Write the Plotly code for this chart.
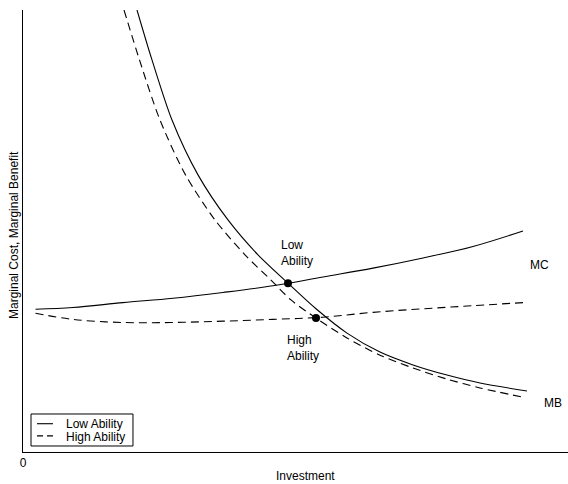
import plotly.graph_objects as go

# Marginal cost schedules by ability, on a common investment grid
invest_mc = [0.25, 1, 2, 3, 4, 5, 6, 7, 8, 9, 10]
mc_low = [3.23, 3.27, 3.38, 3.48, 3.61, 3.76, 3.96, 4.16, 4.39, 4.65, 5.00]
mc_high = [3.14, 3.00, 2.93, 2.93, 2.96, 3.00, 3.05, 3.16, 3.24, 3.31, 3.38]

# Marginal benefit schedules (they run off the top of the chart at low investment)
invest_mb_low = [2.28, 2.58, 2.98, 3.50, 4.10, 4.70, 5.30, 5.86, 6.48, 7.14, 7.80, 8.48, 9.14, 10.08]
mb_low = [10.0, 8.87, 7.51, 6.27, 5.25, 4.46, 3.82, 3.24, 2.69, 2.26, 1.97, 1.74, 1.56, 1.38]
invest_mb_high = [2.02, 2.33, 2.74, 3.25, 3.84, 4.44, 4.96, 5.36, 5.86, 6.48, 7.14, 7.80, 8.48, 9.14, 10.0]
mb_high = [10.0, 8.87, 7.51, 6.27, 5.25, 4.46, 3.89, 3.44, 3.03, 2.58, 2.19, 1.90, 1.65, 1.45, 1.24]

# Optimal investment where MB = MC for each type
eq_invest = [5.30, 5.86]
eq_value = [3.82, 3.03]

FONT = "Liberation Sans, Arial, Helvetica, sans-serif"
DASH = "8px,5px"
LINE_W = 1.1

fig = go.Figure()
fig.add_trace(go.Scatter(x=invest_mc, y=mc_low, mode="lines", line=dict(color="black", width=LINE_W, shape="spline"), name="Low Ability"))
fig.add_trace(go.Scatter(x=invest_mc, y=mc_high, mode="lines", line=dict(color="black", width=LINE_W, dash=DASH, shape="spline"), name="High Ability"))
fig.add_trace(go.Scatter(x=invest_mb_low, y=mb_low, mode="lines", line=dict(color="black", width=LINE_W, shape="spline", smoothing=0.8), showlegend=False))
fig.add_trace(go.Scatter(x=invest_mb_high, y=mb_high, mode="lines", line=dict(color="black", width=LINE_W, dash=DASH, shape="spline", smoothing=0.8), showlegend=False))
fig.add_trace(go.Scatter(x=eq_invest, y=eq_value, mode="markers", marker=dict(color="black", size=8), showlegend=False))

annotations = [
    dict(x=5.14, y=4.50, text="Low<br>Ability", xanchor="left", yanchor="middle", align="left"),
    dict(x=5.26, y=2.35, text="High<br>Ability", xanchor="left", yanchor="middle", align="left"),
    dict(x=10.12, y=4.23, text="MC", xanchor="left", yanchor="middle"),
    dict(x=10.40, y=1.12, text="MB", xanchor="left", yanchor="middle"),
    dict(x=0.519, y=-0.054, xref="paper", yref="paper", text="Investment", xanchor="center", yanchor="middle"),
    dict(x=-0.0165, y=0.491, xref="paper", yref="paper", text="Marginal Cost, Marginal Benefit", textangle=-90, xanchor="center", yanchor="middle"),
    # legend entries
    dict(x=0.0771, y=0.0640, xref="paper", yref="paper", text="Low Ability", xanchor="left", yanchor="middle", size=12),
    dict(x=0.0771, y=0.0345, xref="paper", yref="paper", text="High Ability", xanchor="left", yanchor="middle", size=12),
]
for a in annotations:
    a.setdefault("xref", "x")
    a.setdefault("yref", "y")
    size = a.pop("size", 12)
    a["showarrow"] = False
    a["borderpad"] = 0
    a["font"] = dict(family=FONT, size=size, color="black")

shapes = [
    dict(type="rect", xref="paper", yref="paper", x0=0.0147, x1=0.2018, y0=0.0136, y1=0.086, line=dict(color="black", width=1), fillcolor="white", layer="below"),
    dict(type="line", xref="paper", yref="paper", x0=0.0257, x1=0.055, y0=0.0640, y1=0.0640, line=dict(color="black", width=LINE_W)),
    dict(type="line", xref="paper", yref="paper", x0=0.0257, x1=0.055, y0=0.0365, y1=0.0365, line=dict(color="black", width=LINE_W, dash="6px,4px")),
]

fig.update_layout(
    width=568, height=484,
    margin=dict(l=23, r=0, t=10, b=32),
    paper_bgcolor="white", plot_bgcolor="white",
    showlegend=False,
    font=dict(family=FONT, size=12, color="black"),
    annotations=annotations,
    shapes=shapes,
    xaxis=dict(range=[0, 10.9], showgrid=False, zeroline=False, showline=True, linecolor="black", linewidth=1,
               tickvals=[0], ticktext=["0"], ticks="", tickfont=dict(size=12)),
    yaxis=dict(range=[0, 10], showgrid=False, zeroline=False, showline=True, linecolor="black", linewidth=1,
               showticklabels=False, ticks=""),
)

fig.write_html("out.html")
